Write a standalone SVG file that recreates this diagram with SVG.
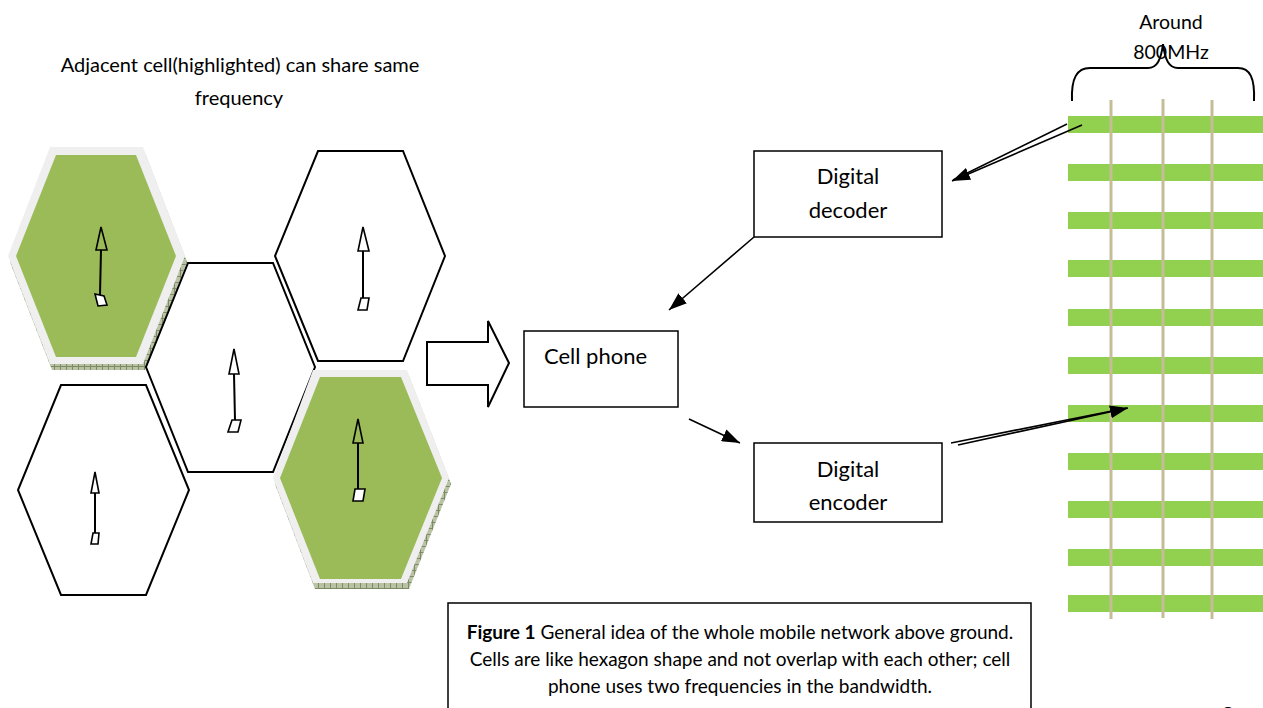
<svg xmlns="http://www.w3.org/2000/svg" width="1263" height="708" viewBox="0 0 1263 708">
<style>
.t{font-family:Lato,"Open Sans","Liberation Sans",sans-serif;fill:#000}
.hex{fill:#fff;stroke:#000;stroke-width:2;stroke-linejoin:miter}
.bevel{fill:#efefef}
.green{fill:#9BBB59}
.shadow{fill:url(#hatch)}
.stem{stroke:#000;stroke-width:2;fill:none}
.head{fill:none;stroke:#000;stroke-width:1.6;stroke-linejoin:miter}
.ant{fill:#fff;stroke:#000;stroke-width:1.6}
.box{fill:#fff;stroke:#000;stroke-width:1.5}
.conn{stroke:#000;stroke-width:1.6;fill:none}
.band{fill:#92D050}
.vline{stroke:#C4BD97;stroke-width:3}
</style>
<defs>
<pattern id="hatch" width="6" height="6" patternUnits="userSpaceOnUse">
<rect width="6" height="6" fill="#b9c3a3"/>
<path d="M0 0.5H6M0.5 0V6" stroke="#7d8a66" stroke-width="1"/>
</pattern>
<marker id="ah" markerUnits="userSpaceOnUse" markerWidth="18" markerHeight="13" viewBox="0 0 18 13" refX="18" refY="6.5" orient="auto">
<path d="M0 0L18 6.5L0 13z" fill="#000"/>
</marker>
</defs>

<g id="caption-top">
<text class="t" x="240" y="72" font-size="20" text-anchor="middle">Adjacent cell(highlighted) can share same</text>
<text class="t" x="239" y="105" font-size="20" text-anchor="middle">frequency</text>
</g>

<g id="cell-top-left">
<polygon class="shadow" points="52,153 145,153 187,262 145,370 52,370 10,262"/>
<polygon class="bevel" points="50,147 143,147 185,256 143,364 50,364 8,256"/>
<polygon class="green" points="56,155 136,155 176,256 136,357 56,357 16,256"/>
<polygon class="head" points="101,227 96,250 107,250"/>
<line class="stem" x1="101" y1="250" x2="100" y2="295"/>
<polygon class="ant" points="95,294 104,296 107,305 98,306"/>
</g>

<g id="cell-middle">
<polygon class="hex" points="188,263 273,263 315,367 273,472 188,472 146,367"/>
<polygon class="head" points="234,349 229,374 239,374"/>
<line class="stem" x1="234" y1="374" x2="235" y2="420"/>
<polygon class="ant" points="232,420 241,420 238,432 228,432"/>
</g>

<g id="cell-top-right">
<polygon class="hex" points="318,151 403,151 445,256 403,361 318,361 275,256"/>
<polygon class="head" points="363,227 358,251 369,251"/>
<line class="stem" x1="363" y1="251" x2="363" y2="298"/>
<polygon class="ant" points="361,298 369,298 367,310 358,310"/>
</g>

<g id="cell-bottom-left">
<polygon class="hex" points="61,385 146,385 189,490 146,595 61,595 18,490"/>
<polygon class="head" points="95,472 91,493 99,493"/>
<line class="stem" x1="95" y1="493" x2="95" y2="533"/>
<polygon class="ant" points="93,533 99,533 98,544 91,544"/>
</g>

<g id="cell-bottom-right">
<polygon class="shadow" points="315,376 409,376 451,484 409,589 315,589 275,484"/>
<polygon class="bevel" points="313,370 407,370 449,478 407,583 313,583 273,478"/>
<polygon class="green" points="320,377 401,377 442,478 401,579 320,579 280,478"/>
<polygon class="head" points="358,419 353,443 363,443"/>
<line class="stem" x1="358" y1="443" x2="358" y2="489"/>
<polygon class="ant" points="355,489 365,489 363,501 353,501"/>
</g>

<g id="block-arrow">
<polygon points="427,342 488,342 488,321 509,363 488,407 488,385 427,385" fill="#fff" stroke="#000" stroke-width="2"/>
</g>

<g id="cell-phone">
<rect class="box" x="524" y="331" width="154" height="76"/>
<text class="t" x="544" y="364" font-size="22">Cell phone</text>
</g>

<g id="decoder">
<rect class="box" x="754" y="151" width="188" height="86"/>
<text class="t" x="848" y="184" font-size="22" text-anchor="middle">Digital</text>
<text class="t" x="848" y="218" font-size="22" text-anchor="middle">decoder</text>
</g>

<g id="encoder">
<rect class="box" x="754" y="443" width="188" height="79"/>
<text class="t" x="848" y="477" font-size="22" text-anchor="middle">Digital</text>
<text class="t" x="848" y="510" font-size="22" text-anchor="middle">encoder</text>
</g>

<g id="bandwidth">
<rect class="band" x="1068" y="116" width="195" height="17"/>
<rect class="band" x="1068" y="164" width="195" height="17"/>
<rect class="band" x="1068" y="212" width="195" height="17"/>
<rect class="band" x="1068" y="260" width="195" height="17"/>
<rect class="band" x="1068" y="309" width="195" height="17"/>
<rect class="band" x="1068" y="357" width="195" height="17"/>
<rect class="band" x="1068" y="405" width="195" height="17"/>
<rect class="band" x="1068" y="453" width="195" height="17"/>
<rect class="band" x="1068" y="501" width="195" height="17"/>
<rect class="band" x="1068" y="549" width="195" height="17"/>
<rect class="band" x="1068" y="595" width="195" height="17"/>
<line class="vline" x1="1111" y1="100" x2="1111" y2="619"/>
<line class="vline" x1="1163" y1="99" x2="1163" y2="618"/>
<line class="vline" x1="1212" y1="100" x2="1212" y2="619"/>
<path d="M1072,101 C1071,78 1077,68 1090,68 L1148,68 C1157,68 1161,60 1163,44 C1165,60 1169,68 1178,68 L1238,68 C1250,68 1255,78 1254,101" fill="none" stroke="#000" stroke-width="2"/>
<text class="t" x="1171" y="29" font-size="19.5" text-anchor="middle">Around</text>
<text class="t" x="1171" y="59" font-size="19.5" text-anchor="middle">800MHz</text>
</g>

<g id="connectors">
<line class="conn" x1="1067" y1="124" x2="953" y2="180"/>
<line class="conn" x1="1082" y1="125" x2="952" y2="181" marker-end="url(#ah)"/>
<line class="conn" x1="754" y1="237" x2="669" y2="310" marker-end="url(#ah)"/>
<line class="conn" x1="689" y1="419" x2="740" y2="443" marker-end="url(#ah)"/>
<line class="conn" x1="951" y1="443" x2="1127" y2="408"/>
<line class="conn" x1="958" y1="445" x2="1128" y2="408" marker-end="url(#ah)"/>
</g>

<g id="figure-caption">
<rect x="448" y="603" width="583" height="120" fill="#fff" stroke="#000" stroke-width="1.5"/>
<text class="t" x="740" y="639" font-size="19" text-anchor="middle"><tspan font-weight="bold">Figure 1</tspan> General idea of the whole mobile network above ground.</text>
<text class="t" x="740" y="666" font-size="19" text-anchor="middle">Cells are like hexagon shape and not overlap with each other; cell</text>
<text class="t" x="740" y="693" font-size="19" text-anchor="middle">phone uses two frequencies in the bandwidth.</text>
</g>

<g id="page-number">
<text class="t" x="1228" y="722" font-size="22" text-anchor="middle">2</text>
</g>
</svg>
